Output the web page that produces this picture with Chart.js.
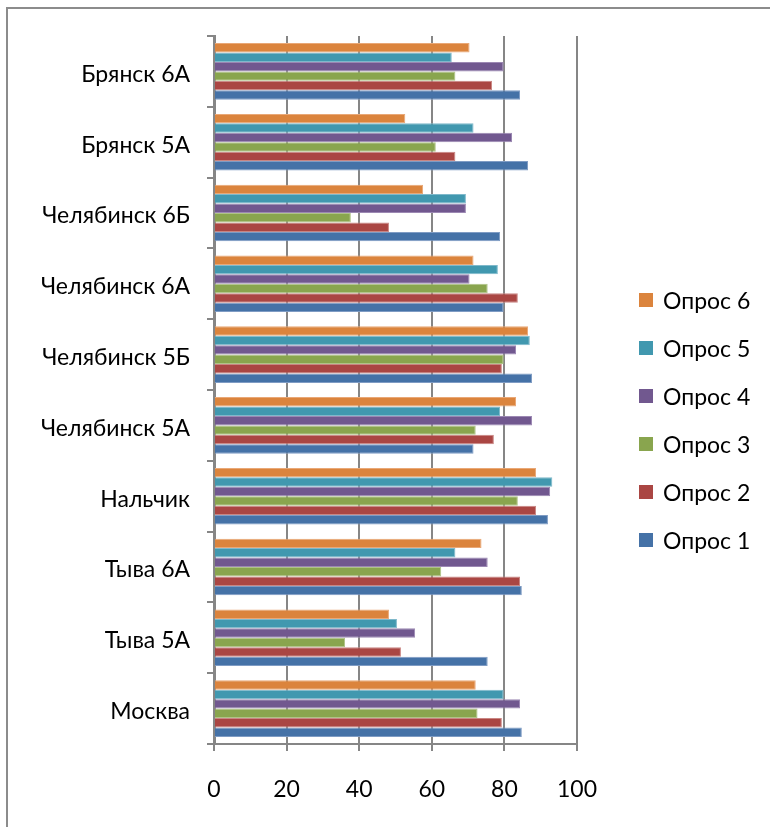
<!DOCTYPE html>
<html>
<head>
<meta charset="utf-8">
<script src="https://cdn.jsdelivr.net/npm/chart.js@4/dist/chart.umd.min.js"></script>
<style>
  html, body { margin: 0; padding: 0; background: #fff; overflow: hidden; }
  #wrap { position: relative; width: 770px; height: 827px; }
  #frame { position: absolute; left: 6px; top: 7px; width: 820px; height: 900px; border: 2px solid #8c8c8c; box-sizing: border-box; }
  canvas { position: absolute; left: 0; top: 0; }
</style>
</head>
<body>
<div id="wrap">
  <div id="frame"></div>
  <canvas id="c" width="770" height="827"></canvas>
</div>
<script>
const categories = ['Брянск 6А', 'Брянск 5А', 'Челябинск 6Б', 'Челябинск 6А', 'Челябинск 5Б', 'Челябинск 5А', 'Нальчик', 'Тыва 6А', 'Тыва 5А', 'Москва'];
const opros1 = [84.3, 86.5, 78.8, 79.8, 87.6, 71.5, 92.0, 84.8, 75.4, 84.8];
const opros2 = [76.6, 66.5, 48.2, 83.7, 79.3, 77.1, 88.7, 84.3, 51.5, 79.3];
const opros3 = [66.5, 61.1, 37.7, 75.4, 79.8, 72.1, 83.7, 62.6, 36.1, 72.6];
const opros4 = [79.8, 82.1, 69.4, 70.4, 83.2, 87.6, 92.6, 75.4, 55.4, 84.3];
const opros5 = [65.5, 71.5, 69.4, 78.2, 87.0, 78.8, 93.2, 66.5, 50.4, 79.8];
const opros6 = [70.4, 52.7, 57.6, 71.5, 86.5, 83.2, 88.7, 73.7, 48.2, 72.1];
const seriesNames = ['Опрос 6', 'Опрос 5', 'Опрос 4', 'Опрос 3', 'Опрос 2', 'Опрос 1'];
const xTicks = [0, 20, 40, 60, 80, 100];

const colors = ['#DB843D', '#4198AF', '#71588F', '#89A54E', '#AA4643', '#4572A7'];
const borders = ['#E9A877', '#7FB9CB', '#9C88B3', '#AFC487', '#C98683', '#7F9CC4'];
const seriesData = [opros6, opros5, opros4, opros3, opros2, opros1];

const FONT = 'Lato, "Open Sans", sans-serif';

const legendPlugin = {
  id: 'sideLegend',
  afterDraw(chart) {
    const ctx = chart.ctx;
    ctx.save();
    ctx.font = '23px ' + FONT;
    ctx.textBaseline = 'middle';
    ctx.textAlign = 'left';
    chart.data.datasets.forEach((ds, i) => {
      const y = 302 + i * 48;
      ctx.fillStyle = ds.backgroundColor;
      ctx.fillRect(639, y - 9, 14, 14);
      ctx.fillStyle = '#000';
      ctx.fillText(ds.label, 663, y);
    });
    ctx.restore();
  }
};

new Chart(document.getElementById('c'), {
  type: 'bar',
  data: {
    labels: categories,
    datasets: seriesNames.map((n, i) => ({
      label: n,
      data: seriesData[i],
      backgroundColor: colors[i],
      borderColor: borders[i],
      borderWidth: 1,
      categoryPercentage: 0.8,
      barPercentage: 1.0
    }))
  },
  options: {
    indexAxis: 'y',
    responsive: false,
    animation: false,
    layout: { padding: { left: 0, top: 36, right: 193, bottom: 0 } },
    plugins: { legend: { display: false }, tooltip: { enabled: false } },
    scales: {
      x: {
        min: 0, max: 100,
        afterBuildTicks: (s) => { s.ticks = xTicks.map(v => ({ value: v })); },
        afterFit: (s) => { s.height = 83; },
        grid: { color: '#868686', lineWidth: 2, tickLength: 7, drawTicks: true },
        border: { color: '#868686', width: 2 },
        ticks: { color: '#000', font: { family: FONT, size: 23 }, padding: 25, maxRotation: 0 }
      },
      y: {
        afterFit: (s) => { s.width = 214; },
        grid: { drawOnChartArea: false, color: '#868686', lineWidth: 2, tickLength: 7, offset: true },
        border: { color: '#868686', width: 3 },
        ticks: { color: '#000', font: { family: FONT, size: 23 }, padding: 17, labelOffset: 3 }
      }
    }
  },
  plugins: [legendPlugin]
});
</script>
</body>
</html>
